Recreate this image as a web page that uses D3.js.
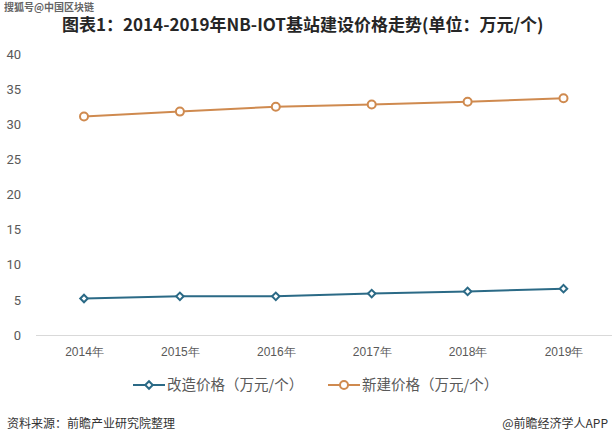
<!DOCTYPE html>
<html><head><meta charset="utf-8">
<script src="https://cdn.jsdelivr.net/npm/d3@7"></script>
<style>body{margin:0;background:#fff;}svg{display:block;font-family:"Noto Sans CJK SC","Microsoft YaHei",sans-serif;}</style>
</head><body>
<svg id="c" width="614" height="446"></svg>
<script>
const years = ["2014年","2015年","2016年","2017年","2018年","2019年"];
const renovate = [5.2, 5.5, 5.5, 5.9, 6.2, 6.6];
const newBuild = [31.1, 31.8, 32.5, 32.8, 33.2, 33.7];
const yTicks = [0,5,10,15,20,25,30,35,40];
const seriesNames = ["改造价格（万元/个）","新建价格（万元/个）"];
const colors = ["#2b6a86","#cf8a4f"];

const svg = d3.select("#c");
const x = d3.scalePoint().domain(years).range([84, 563.5]);
const y = d3.scaleLinear().domain([0,40]).range([335, 54]);

// watermark (top-left) and title
svg.append("text").attr("x", 4).attr("y", 11).attr("font-size", 10).attr("font-weight", "bold")
  .attr("fill", "#555").attr("opacity", 0.9)
  .text("搜狐号@中国区块链");
svg.append("text").attr("x", 62).attr("y", 31).attr("font-size", 17).attr("font-weight", "bold")
  .attr("fill", "#262626").text("图表1：2014-2019年NB-IOT基站建设价格走势(单位：万元/个)");

// y axis labels
const yAxis = d3.axisLeft(y).tickValues(yTicks).tickSize(0).tickPadding(0);
const gy = svg.append("g").attr("transform", "translate(21,0)").call(yAxis);
gy.select(".domain").remove();
gy.selectAll("text").attr("font-size", 13).attr("fill", "#595959").attr("font-family", "Roboto, 'Noto Sans', sans-serif");

// x axis
const xAxis = d3.axisBottom(x).tickSize(0).tickPadding(12);
const gx = svg.append("g").attr("transform", "translate(0,335)").call(xAxis);
gx.select(".domain").remove();
svg.append("line").attr("x1", 36).attr("x2", 612).attr("y1", 335.5).attr("y2", 335.5).attr("stroke", "#d9d9d9");
gx.selectAll("text").attr("font-size", 12).attr("fill", "#595959");

const data = [renovate, newBuild];
const line = d3.line().x((d,i)=>x(years[i])).y(d=>y(d));
data.forEach((s, k) => {
  svg.append("path").datum(s).attr("d", line).attr("fill","none").attr("stroke", colors[k]).attr("stroke-width", 2);
});
function marker(g, k, cx, cy){
  if(k===0){
    g.append("path").attr("d", d3.symbol().type(d3.symbolSquare).size(28)())
      .attr("transform", `translate(${cx},${cy}) rotate(45)`)
      .attr("fill","#fff").attr("stroke", colors[0]).attr("stroke-width", 2);
  } else {
    g.append("circle").attr("cx", cx).attr("cy", cy).attr("r", 4)
      .attr("fill","#fff").attr("stroke", colors[1]).attr("stroke-width", 2);
  }
}
data.forEach((s,k)=>{
  const g = svg.append("g");
  s.forEach((v,i)=>marker(g,k,x(years[i]),y(v)));
});

// legend
const legX = [133, 328];
seriesNames.forEach((n,k)=>{
  const lx = legX[k], ly = 385;
  svg.append("line").attr("x1", lx).attr("x2", lx+32).attr("y1", ly).attr("y2", ly).attr("stroke", colors[k]).attr("stroke-width", 2);
  marker(svg, k, lx+16, ly);
  svg.append("text").attr("x", lx+34).attr("y", ly+5).attr("font-size", 14.5).attr("fill", "#595959").text(n);
});

// footer
svg.append("text").attr("x", 7).attr("y", 428).attr("font-size", 12).attr("fill", "#333").text("资料来源：前瞻产业研究院整理");
svg.append("text").attr("x", 608).attr("y", 428).attr("font-size", 12).attr("fill", "#333").attr("text-anchor","end").text("@前瞻经济学人APP");
</script>
</body></html>
